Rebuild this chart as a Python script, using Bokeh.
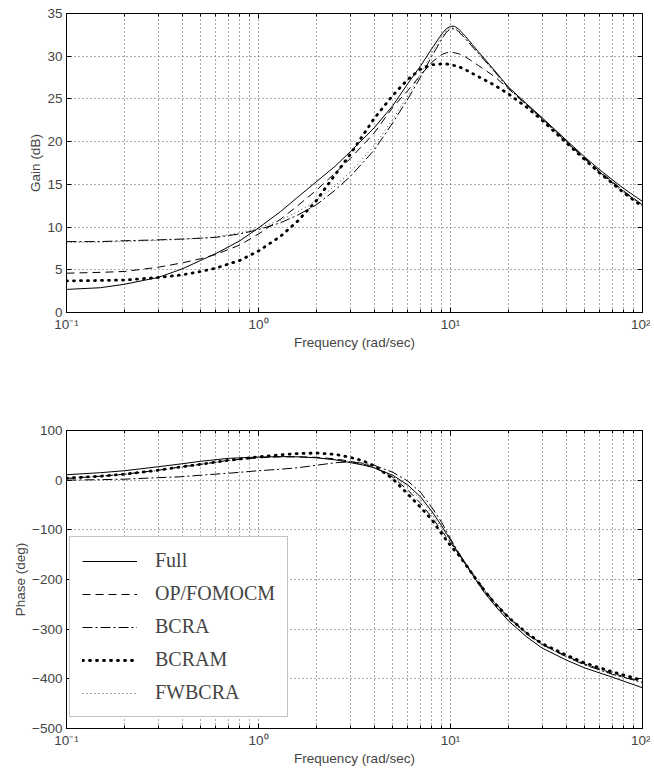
from bokeh.plotting import figure
from bokeh.models import (Range1d, FixedTicker, LogAxis, LinearAxis,
                          CustomJSTickFormatter, Legend, LegendItem)
from bokeh.layouts import column
from bokeh.embed import file_html
from bokeh.resources import INLINE

# ---------------- data ----------------
freq = [0.1, 0.15, 0.2, 0.3, 0.4, 0.5, 0.6, 0.8, 1.0, 1.3, 1.6, 2.0, 2.5, 3.0,
        4.0, 5.0, 6.0, 7.0, 8.0, 9.0, 9.5, 10.0, 10.5, 11.0, 12.0, 14.0, 17.0,
        20.0, 25.0, 30.0, 40.0, 50.0, 60.0, 70.0, 80.0, 100.0]

gain_full = [2.7, 2.9, 3.3, 4.1, 5.1, 6.1, 6.9, 8.4, 9.9, 11.8, 13.5, 15.3, 17.1, 18.8,
             21.6, 24.2, 26.8, 28.9, 30.9, 32.6, 33.2, 33.5, 33.5, 33.2, 32.3, 30.5, 28.3,
             26.4, 24.4, 22.8, 20.2, 18.2, 16.7, 15.5, 14.5, 13.0]
gain_op = [4.6, 4.7, 4.8, 5.3, 5.8, 6.3, 6.8, 7.9, 9.2, 10.9, 12.5, 14.3, 16.3, 18.0,
           21.0, 24.0, 26.0, 27.8, 29.3, 30.2, 30.4, 30.5, 30.4, 30.3, 29.9, 28.9, 27.6,
           26.2, 24.3, 22.7, 20.1, 18.1, 16.5, 15.3, 14.2, 12.6]
gain_bcra = [8.3, 8.3, 8.4, 8.5, 8.6, 8.7, 8.8, 9.2, 9.7, 10.5, 11.4, 12.6, 14.3, 15.9,
             19.0, 22.2, 25.0, 27.6, 30.0, 32.0, 32.8, 33.2, 33.2, 32.9, 32.0, 30.3, 28.2,
             26.3, 24.3, 22.7, 20.0, 18.0, 16.4, 15.2, 14.1, 12.6]
gain_bcram = [3.7, 3.75, 3.8, 4.1, 4.4, 4.8, 5.2, 6.1, 7.2, 8.9, 10.7, 13.1, 16.1, 18.5,
              22.7, 25.4, 27.3, 28.5, 29.0, 29.1, 29.1, 29.0, 28.9, 28.8, 28.4, 27.6, 26.6,
              25.6, 24.0, 22.5, 19.9, 17.9, 16.3, 15.1, 14.0, 12.4]
gain_fw = [8.2, 8.25, 8.3, 8.45, 8.55, 8.7, 8.85, 9.3, 9.9, 10.8, 11.8, 13.1, 14.8, 16.4,
           19.5, 22.6, 25.4, 28.0, 30.4, 32.3, 33.0, 33.3, 33.3, 33.0, 32.1, 30.3, 28.1,
           26.2, 24.2, 22.6, 19.9, 17.9, 16.3, 15.1, 14.0, 12.5]

pfreq = [0.1, 0.15, 0.2, 0.3, 0.4, 0.5, 0.7, 1.0, 1.3, 1.6, 2.0, 2.5, 3.0, 3.5, 4.0,
         5.0, 6.0, 7.0, 8.0, 9.0, 10.0, 11.0, 12.0, 13.5, 15.0, 17.0, 20.0, 25.0, 30.0,
         40.0, 50.0, 70.0, 100.0]
phase_full = [11, 15, 19, 27, 33, 38, 44, 46.5, 47.5, 47, 45, 41, 35.5, 30.5, 25,
              10, -10, -34, -63, -92, -121, -147, -170, -200, -226, -252, -283, -316, -338,
              -362, -378, -397, -418]
phase_op = [3.5, 8, 12, 20, 27, 32, 40, 45, 47, 47, 46, 43, 38, 32.5, 26,
            6, -20, -47, -75, -102, -126, -148, -168, -196, -220, -246, -275, -308, -330,
            -354, -370, -389, -406]
phase_bcra = [0, 1, 2, 5, 7, 10, 14, 19, 22, 25, 30, 35, 37, 34, 30,
              16, -2, -25, -55, -85, -118, -145, -168, -198, -222, -247, -276, -310, -331,
              -355, -372, -391, -407]
phase_bcram = [4, 8, 12, 20, 27, 32, 40, 47, 51, 53.5, 54.5, 52, 46, 39, 29,
               3, -28, -55, -80, -108, -132, -150, -170, -198, -222, -248, -276, -308, -329,
               -352, -368, -386, -403]
phase_fw = [3, 7.5, 11.5, 19.5, 26.5, 31.5, 39.5, 45, 47, 47, 45, 41.5, 36, 31, 25.5,
            8, -14, -39, -68, -97, -124, -149, -170, -199, -223, -249, -278, -311, -332,
            -356, -372, -391, -408]

series_names = ["Full", "OP/FOMOCM", "BCRA", "BCRAM", "FWBCRA"]
x_major = [0.1, 1, 10, 100]
x_minor = [m * d for d in (0.1, 1, 10) for m in range(2, 10)]
gain_ticks = [0, 5, 10, 15, 20, 25, 30, 35]
phase_ticks = [-500, -400, -300, -200, -100, 0, 100]

# ---------------- styling ----------------
FONT = "Liberation Sans"
TICK_SIZE = "13.5px"
GRID = "#555555"
styles = {
    "Full": dict(line_color="black", line_width=1),
    "OP/FOMOCM": dict(line_color="black", line_width=1, line_dash="8 5"),
    "BCRA": dict(line_color="black", line_width=1, line_dash="10 3 2 3"),
    "BCRAM": dict(line_color="black", line_width=2.8, line_dash="1 6", line_cap="round"),
    "FWBCRA": dict(line_color="#444444", line_width=1, line_dash="1 3"),
}

fmt = CustomJSTickFormatter(code="""
const e = Math.round(Math.log10(tick));
const sup = {'-':'\u207b','0':'\u2070','1':'\u00b9','2':'\u00b2','3':'\u00b3'};
return '10' + String(e).split('').map(c => sup[c]).join('');
""")


def make_fig(yr, yticks, ylabel, height, btop, bbot):
    p = figure(width=650, height=height, x_axis_type="log",
               x_range=Range1d(0.1, 100), y_range=Range1d(*yr),
               output_backend="svg", toolbar_location=None,
               min_border_left=66, min_border_right=8,
               min_border_top=btop, min_border_bottom=bbot)
    p.outline_line_color = "black"
    p.outline_line_width = 1
    p.background_fill_color = "white"
    xt = FixedTicker(ticks=x_major, minor_ticks=x_minor)
    yt = FixedTicker(ticks=yticks)
    p.xaxis.ticker = xt
    p.yaxis.ticker = yt
    p.xaxis.formatter = fmt
    p.xaxis.axis_label = "Frequency (rad/sec)"
    p.yaxis.axis_label = ylabel
    for ax in (p.xaxis[0], p.yaxis[0]):
        ax.major_label_text_font = FONT
        ax.major_label_text_font_size = TICK_SIZE
        ax.axis_label_text_font = FONT
        ax.axis_label_text_font_size = "13.5px"
        ax.axis_label_text_font_style = "normal"
        ax.major_tick_in = 5
        ax.major_tick_out = 0
        ax.minor_tick_in = 3
        ax.minor_tick_out = 0
        ax.axis_line_color = "black"
    p.xaxis.major_label_standoff = 4
    p.xaxis.axis_label_standoff = 0
    p.yaxis.major_label_standoff = 4
    p.yaxis.axis_label_standoff = 1
    # mirrored axes (ticks only) on top and right
    top = LogAxis(ticker=xt, formatter=fmt, major_label_text_font_size="1px",
                  major_label_text_alpha=0, major_label_standoff=0,
                  major_tick_in=5, major_tick_out=0, minor_tick_in=3, minor_tick_out=0)
    right = LinearAxis(ticker=yt, major_label_text_font_size="1px",
                       major_label_text_alpha=0, major_label_standoff=0,
                       major_tick_in=5, major_tick_out=0, minor_tick_line_color=None)
    p.add_layout(top, "above")
    p.add_layout(right, "right")
    for g in (p.xgrid[0], p.ygrid[0]):
        g.grid_line_color = GRID
        g.grid_line_dash = "1 3"
        g.grid_line_width = 1
    p.xgrid.minor_grid_line_color = GRID
    p.xgrid.minor_grid_line_dash = "1 3"
    p.xgrid.minor_grid_line_width = 1
    return p


# ---------------- gain plot ----------------
p1 = make_fig((0, 35), gain_ticks, "Gain (dB)", 360, 13, 48)
gains = [gain_full, gain_op, gain_bcra, gain_bcram, gain_fw]
order = [4, 3, 2, 1, 0]
for i in order:
    p1.line(freq, gains[i], **styles[series_names[i]])

# ---------------- phase plot ----------------
p2 = make_fig((-500, 100), phase_ticks, "Phase (deg)", 408, 70, 40)
phases = [phase_full, phase_op, phase_bcra, phase_bcram, phase_fw]
rends = {}
for i in order:
    rends[i] = p2.line(pfreq, phases[i], **styles[series_names[i]])

legend = Legend(items=[LegendItem(label=series_names[i], renderers=[rends[i]]) for i in range(5)],
                location=(3, 11))
legend.label_text_font = "Liberation Serif"
legend.label_text_font_size = "20px"
legend.glyph_width = 55
legend.glyph_height = 20
legend.label_height = 20
legend.label_standoff = 18
legend.spacing = 10
legend.padding = 12
legend.margin = 0
legend.border_line_color = "#888888"
legend.border_line_width = 1
legend.background_fill_color = "white"
legend.background_fill_alpha = 1
p2.add_layout(legend)

layout = column(p1, p2, spacing=0)
open("out.html", "w").write(file_html(layout, INLINE))
